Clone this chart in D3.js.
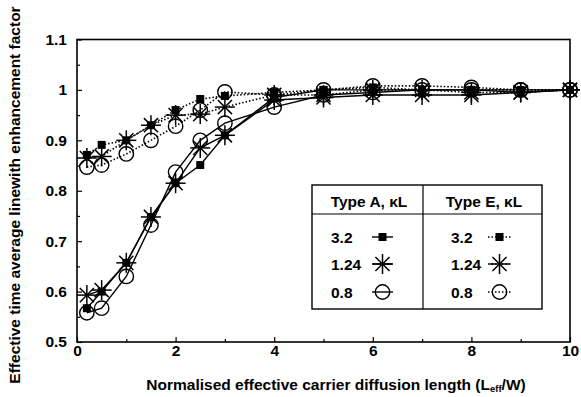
<!DOCTYPE html>
<html><head><meta charset="utf-8">
<script src="https://cdn.jsdelivr.net/npm/d3@7"></script>
<style>body{margin:0;background:#fff}svg{display:block}text{font-family:"Liberation Sans",Arial,sans-serif;fill:#000;font-weight:bold}</style>
</head><body>
<svg id="c" width="581" height="397"></svg>
<script>
const xValues = [0.2, 0.5, 1, 1.5, 2, 2.5, 3, 4, 5, 6, 7, 8, 9, 10];
const typeA_32  = [0.567, 0.600, 0.657, 0.748, 0.815, 0.851, 0.910, 0.985, 1.000, 1.000, 1.000, 1.000, 0.995, 1.000];
const typeA_124 = [0.593, 0.603, 0.657, 0.748, 0.815, 0.885, 0.910, 0.980, 0.985, 0.990, 0.990, 0.990, 0.995, 1.000];
const typeA_08  = [0.558, 0.567, 0.630, 0.732, 0.837, 0.900, 0.934, 0.966, 0.990, 0.995, 1.000, 1.000, 1.000, 1.000];
const typeE_32  = [0.871, 0.891, 0.900, 0.930, 0.960, 0.982, 0.988, 0.995, 1.000, 1.005, 1.000, 1.000, 1.000, 1.000];
const typeE_124 = [0.865, 0.868, 0.900, 0.930, 0.950, 0.952, 0.966, 0.990, 0.990, 1.000, 1.000, 0.995, 0.995, 1.000];
const typeE_08  = [0.847, 0.851, 0.873, 0.900, 0.928, 0.960, 0.996, 0.990, 1.000, 1.008, 1.008, 1.005, 1.000, 1.000];
const xTicks = [0, 2, 4, 6, 8, 10];
const yTicks = [0.5, 0.6, 0.7, 0.8, 0.9, 1, 1.1];
const legendRows = ["3.2", "1.24", "0.8"];

const svg = d3.select("#c");
const x = d3.scaleLinear().domain([0, 10]).range([77, 570]);
const y = d3.scaleLinear().domain([0.5, 1.1]).range([342, 39.5]);

// frame
svg.append("rect").attr("x", x(0)).attr("y", y(1.1)).attr("width", x(10) - x(0)).attr("height", y(0.5) - y(1.1))
  .attr("fill", "none").attr("stroke", "#000").attr("stroke-width", 1.6);

// ticks (inward)
const xAxis = d3.axisBottom(x).tickValues(xTicks).tickSizeInner(-5).tickSizeOuter(0).tickPadding(3).tickFormat(d3.format("d"));
const gx = svg.append("g").attr("transform", `translate(0,${y(0.5)})`).call(xAxis);
gx.select(".domain").remove();
gx.selectAll("text").attr("font-size", 15.5).attr("dy", "0.71em");
const gxm = svg.append("g").attr("transform", `translate(0,${y(0.5)})`)
  .call(d3.axisBottom(x).tickValues(d3.range(1, 10, 2)).tickSizeInner(-3).tickSizeOuter(0).tickFormat(""));
gxm.select(".domain").remove();

const yAxis = d3.axisLeft(y).tickValues(yTicks).tickSizeInner(-5).tickSizeOuter(0).tickPadding(10).tickFormat(d => d3.format("")(d));
const gy = svg.append("g").attr("transform", `translate(${x(0)},0)`).call(yAxis);
gy.select(".domain").remove();
gy.selectAll("text").attr("font-size", 15.5);
const gym = svg.append("g").attr("transform", `translate(${x(0)},0)`)
  .call(d3.axisLeft(y).tickValues(d3.range(0.55, 1.1, 0.1)).tickSizeInner(-3).tickSizeOuter(0).tickFormat(""));
gym.select(".domain").remove();
svg.selectAll(".tick line").attr("stroke-width", 1.2);

// axis titles
const xt = svg.append("text").attr("x", 336).attr("y", 390).attr("text-anchor", "middle").attr("font-size", 15.5)
  .text("Normalised effective carrier diffusion length (L");
xt.append("tspan").attr("font-size", 9.5).attr("dy", 1.5).text("eff");
xt.append("tspan").attr("dy", -1.5).text("/W)");
svg.append("text").attr("transform", "translate(20,195) rotate(-90)").attr("text-anchor", "middle").attr("font-size", 15.5)
  .text("Effective time average linewith enhancement factor");

// markers
function marker(g, kind, cx, cy, s) {
  if (kind === "square") {
    g.append("rect").attr("x", cx - s * 0.4).attr("y", cy - s * 0.4).attr("width", s * 0.8).attr("height", s * 0.8).attr("fill", "#000");
  } else if (kind === "star") {
    const r = s;
    const angles = [0, 45, 90, 135];
    angles.forEach(a => {
      const t = a * Math.PI / 180;
      g.append("line").attr("x1", cx - r * Math.cos(t)).attr("y1", cy - r * Math.sin(t))
        .attr("x2", cx + r * Math.cos(t)).attr("y2", cy + r * Math.sin(t))
        .attr("stroke", "#000").attr("stroke-width", 1.5);
    });
  } else {
    g.append("circle").attr("cx", cx).attr("cy", cy).attr("r", s * 0.8).attr("fill", "none").attr("stroke", "#000").attr("stroke-width", 1.4);
  }
}

const series = [
  {vals: typeE_08, kind: "circle", dash: "1.5,2"},
  {vals: typeE_124, kind: "star", dash: "1.5,2"},
  {vals: typeE_32, kind: "square", dash: "1.5,2"},
  {vals: typeA_08, kind: "circle", dash: null},
  {vals: typeA_124, kind: "star", dash: null},
  {vals: typeA_32, kind: "square", dash: null},
];
const line = d3.line().x(d => x(d[0])).y(d => y(d[1]));
const sizes = {square: 10, star: 10, circle: 9};
series.forEach(s => {
  const pts = xValues.map((v, i) => [v, s.vals[i]]);
  svg.append("path").attr("d", line(pts)).attr("fill", "none").attr("stroke", "#000")
    .attr("stroke-width", s.dash ? 1.6 : 1.4).attr("stroke-dasharray", s.dash);
  const g = svg.append("g");
  pts.forEach(p => marker(g, s.kind, x(p[0]), y(p[1]), sizes[s.kind]));
});

// legend
const lg = svg.append("g");
lg.append("rect").attr("x", 312).attr("y", 185).attr("width", 230).attr("height", 124).attr("fill", "#fff").attr("stroke", "#000").attr("stroke-width", 1.4);
lg.append("line").attr("x1", 312).attr("x2", 542).attr("y1", 214).attr("y2", 214).attr("stroke", "#000").attr("stroke-width", 1.2);
lg.append("line").attr("x1", 423).attr("x2", 423).attr("y1", 185).attr("y2", 309).attr("stroke", "#000").attr("stroke-width", 1.2);
lg.append("text").attr("x", 369).attr("y", 207).attr("text-anchor", "middle").attr("font-size", 15.5).text("Type A, κL");
lg.append("text").attr("x", 484).attr("y", 207).attr("text-anchor", "middle").attr("font-size", 15.5).text("Type E, κL");
const kinds = ["square", "star", "circle"];
const rowY = [237, 264, 292];
legendRows.forEach((lab, i) => {
  lg.append("text").attr("x", 331).attr("y", rowY[i] + 6).attr("font-size", 15.5).text(lab);
  lg.append("text").attr("x", 451).attr("y", rowY[i] + 6).attr("font-size", 15.5).text(lab);
  lg.append("line").attr("x1", 372).attr("x2", 393).attr("y1", rowY[i]).attr("y2", rowY[i]).attr("stroke", "#000").attr("stroke-width", 1.4);
  lg.append("line").attr("x1", 488).attr("x2", 511).attr("y1", rowY[i]).attr("y2", rowY[i]).attr("stroke", "#000").attr("stroke-width", 1.4).attr("stroke-dasharray", "1.5,2");
  marker(lg, kinds[i], 382.5, rowY[i], sizes[kinds[i]]);
  marker(lg, kinds[i], 499.5, rowY[i], sizes[kinds[i]]);
});
</script>
</body></html>
